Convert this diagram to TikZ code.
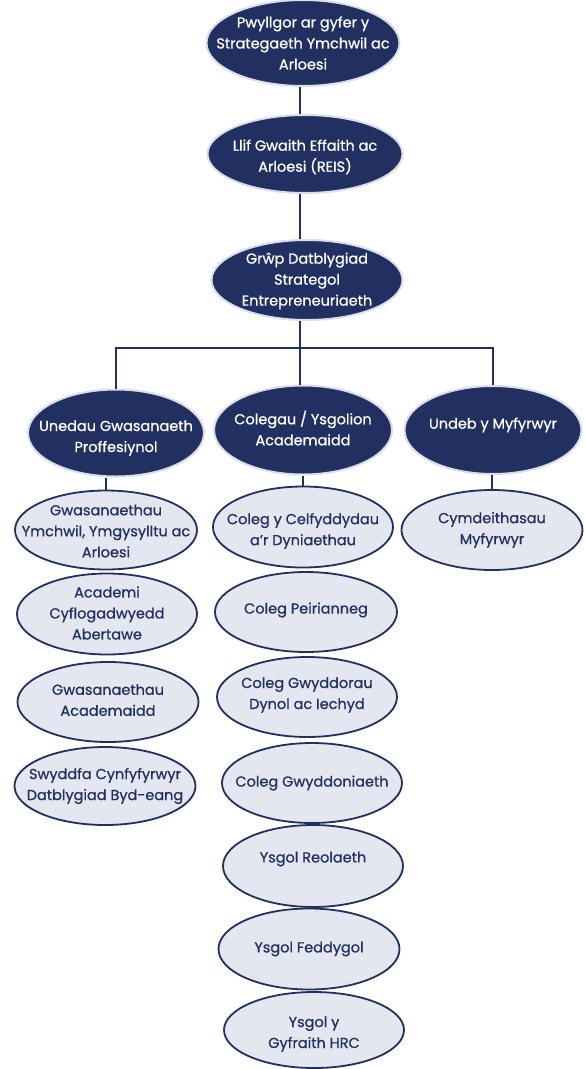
\documentclass[tikz,border=0pt]{standalone}
\usepackage{fontspec}
\setmainfont{Poppins}[FakeBold=0.8]
\usetikzlibrary{shapes.geometric}
\definecolor{navy}{RGB}{33,48,96}
\definecolor{pale}{RGB}{228,231,239}
\definecolor{rim}{RGB}{218,222,232}
\tikzset{
  base/.style={ellipse, inner sep=0pt},
  txt/.style={align=center, inner sep=0pt, font=\fontsize{14.5}{21}\selectfont},
  dark/.style={base, fill=navy, draw=rim, line width=2pt},
  light/.style={base, fill=pale, draw=navy, line width=1.8pt},
  wt/.style={txt, text=white},
  nt/.style={txt, text=navy},
  conn/.style={draw=navy, line width=2pt},
}
\begin{document}
\begin{tikzpicture}[x=1pt,y=1pt]
\useasboundingbox (0,0) rectangle (585,-1069);
% top chain
\node[dark, minimum width=193pt, minimum height=86pt, label={[wt]center:Pwyllgor ar gyfer y\\Strategaeth Ymchwil ac\\Arloesi}] (top) at (303,-43) {};
\node[dark, minimum width=195pt, minimum height=78pt, label={[wt, yshift=-3pt]center:Llif Gwaith Effaith ac\\Arloesi (REIS)}] (reis) at (305,-154) {};
\node[dark, minimum width=191pt, minimum height=80pt, label={[wt, yshift=-1pt]center:Grŵp Datblygiad\\Strategol\\Entrepreneuriaeth}] (grp) at (307,-280) {};
% second row
\node[dark, minimum width=176pt, minimum height=87pt, label={[wt, yshift=-5pt]center:Unedau Gwasanaeth\\Proffesiynol}] (unedau) at (116,-433) {};
\node[dark, minimum width=178pt, minimum height=89pt, label={[wt, yshift=2pt]center:Colegau / Ysgolion\\Academaidd}] (colegau) at (303,-430) {};
\node[dark, minimum width=177pt, minimum height=88pt, label={[wt, yshift=5pt]center:Undeb y Myfyrwyr}] (undeb) at (493,-430) {};
% left column
\node[light, minimum width=182pt, minimum height=79pt, label={[nt, yshift=-1pt]center:Gwasanaethau\\Ymchwil, Ymgysylltu ac\\Arloesi}] (gwas1) at (106,-530) {};
\node[light, minimum width=180pt, minimum height=81pt, label={[nt, yshift=1pt]center:Academi\\Cyflogadwyedd\\Abertawe}] (academi) at (107,-614) {};
\node[light, minimum width=181pt, minimum height=80pt, label={[nt, yshift=2pt]center:Gwasanaethau\\Academaidd}] (gwasacad) at (108,-702) {};
\node[light, minimum width=181pt, minimum height=78pt, label={[nt]center:Swyddfa Cynfyfyrwyr\\Datblygiad Byd-eang}] (swyddfa) at (105,-786) {};
% middle column
\node[light, minimum width=180pt, minimum height=81pt, label={[nt, yshift=-4pt]center:Coleg y Celfyddydau\\a’r Dyniaethau}] (celf) at (303,-527) {};
\node[light, minimum width=182pt, minimum height=80pt, label={[nt, yshift=2pt]center:Coleg Peirianneg}] (peir) at (306,-612) {};
\node[light, minimum width=180pt, minimum height=80pt, label={[nt, yshift=2pt]center:Coleg Gwyddorau\\Dynol ac Iechyd}] (gwydd) at (307,-697) {};
\node[light, minimum width=180pt, minimum height=80pt, label={[nt]center:Coleg Gwyddoniaeth}] (gwyddon) at (312,-783) {};
\node[light, minimum width=180pt, minimum height=82pt, label={[nt, yshift=7pt]center:Ysgol Reolaeth}] (reol) at (313,-866) {};
\node[light, minimum width=181pt, minimum height=81pt, label={[nt]center:Ysgol Feddygol}] (fedd) at (309,-949) {};
\node[light, minimum width=180pt, minimum height=76pt, label={[nt, yshift=-4pt]center:Ysgol y\\Gyfraith HRC}] (gyfr) at (314,-1030) {};
% right column
\node[light, minimum width=181pt, minimum height=80pt, label={[nt]center:Cymdeithasau\\Myfyrwyr}] (cymd) at (492,-530) {};
% connectors
\coordinate (spine) at (300,0);
\coordinate (bar) at (300,-348);
\draw[conn] (top.south -| spine) -- (reis.north -| spine);
\draw[conn] (reis.south -| spine) -- (grp.north -| spine);
\draw[conn] (grp.south -| spine) -- (bar);
\draw[conn] (unedau.north) |- (bar) -| (undeb.north);
\draw[conn] (bar) -- (colegau.north -| bar);
\draw[conn] (unedau.south -| gwas1.north) -- (gwas1.north);
\draw[conn] (colegau.south -| celf.north) -- (celf.north);
\draw[conn] (undeb.south -| cymd.north) -- (cymd.north);
\end{tikzpicture}
\end{document}
